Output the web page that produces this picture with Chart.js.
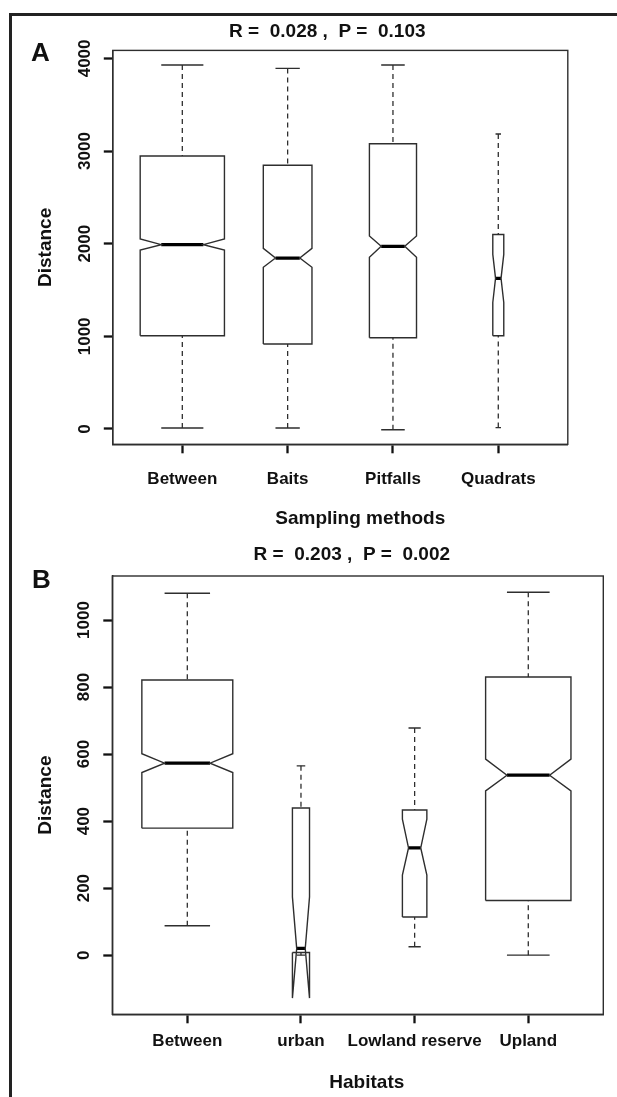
<!DOCTYPE html>
<html><head><meta charset="utf-8">
<script src="https://cdn.jsdelivr.net/npm/chart.js@4.4.1/dist/chart.umd.min.js"></script>
<style>
html,body{margin:0;padding:0;background:#fff;}
body{width:617px;height:1097px;overflow:hidden;position:relative;}
#frame{position:absolute;left:9px;top:13px;width:800px;height:1400px;border:3px solid #222;box-sizing:border-box;}
canvas{position:absolute;left:0;}
.lbl{position:absolute;font:bold 26px "Liberation Sans",Arial,sans-serif;color:#111;line-height:1;}
</style></head><body>
<div id="frame"></div>
<canvas id="ca" width="617" height="530" style="top:0"></canvas>
<canvas id="cb" width="617" height="567" style="top:530px"></canvas>
<div class="lbl" style="left:31px;top:39px">A</div>
<div class="lbl" style="left:32px;top:566px">B</div>
<script>
// ---- Panel A data ----
const catsA = ['Between', 'Baits', 'Pitfalls', 'Quadrats'];
const lowA = [10, 10, -8, 15];
const q1A = [1007, 917, 985, 1007];
const medA = [1990, 1845, 1972, 1626];
const q3A = [2946, 2846, 3079, 2100];
const highA = [3929, 3892, 3929, 3184];
const notchLoA = [1932, 1745, 1853, 1365];
const notchHiA = [2051, 1950, 2083, 1885];
const countA = [2650, 884, 828, 45];
const yTicksA = [0, 1000, 2000, 3000, 4000];
const titleA = 'R =  0.028 ,  P =  0.103';
const xTitleA = 'Sampling methods';

// ---- Panel B data ----
const catsB = ['Between', 'urban', 'Lowland reserve', 'Upland'];
const lowB = [88, 0, 25, 0];
const q1B = [379, 8, 114, 163];
const medB = [573, 20, 320, 537];
const q3B = [821, 439, 433, 830];
const highB = [1080, 565, 678, 1083];
const notchLoB = [545, -128, 239, 490];
const notchHiB = [601, 174, 406, 585];
const countB = [622, 22, 45, 548];
const yTicksB = [0, 200, 400, 600, 800, 1000];
const titleB = 'R =  0.203 ,  P =  0.002';
const xTitleB = 'Habitats';

const FAMILY = '"Liberation Sans", Arial, Helvetica, sans-serif';
Chart.defaults.font.family = FAMILY;
Chart.defaults.color = '#111';

const TICKFONT = {size: 17, weight: 'bold'};
const TITLEFONT = {size: 19, weight: 'bold'};
const LINE = '#2e2e2e';

const frameBox = {
  id: 'frameBox',
  afterDatasetsDraw(chart) {
    const {ctx, chartArea: a} = chart;
    ctx.save();
    ctx.strokeStyle = LINE;
    ctx.lineWidth = 1.4;
    ctx.strokeRect(a.left, a.top, a.right - a.left, a.bottom - a.top);
    ctx.restore();
  }
};

// main title and x-axis title, placed relative to the plot region
const textLabels = {
  id: 'textLabels',
  afterDraw(chart, args, o) {
    const {ctx, chartArea: a} = chart;
    const cx = (a.left + a.right) / 2;
    ctx.save();
    ctx.font = 'bold 19px ' + FAMILY;
    ctx.fillStyle = '#111';
    ctx.textAlign = 'center';
    ctx.textBaseline = 'middle';
    ctx.fillText(o.title, cx + o.titleDx, a.top - o.titleUp);
    ctx.fillText(o.xTitle, cx + o.xTitleDx, a.bottom + o.xTitleDown);
    ctx.restore();
  }
};

function boxDatasets(d) {
  const maxN = Math.max(...d.n);
  const outline = [], whisk = [], caps = [], meds = [];
  const gap = x => ({x: x, y: null});
  d.cats.forEach((c, i) => {
    const x = i + 1;
    const w = 0.8 * Math.sqrt(d.n[i] / maxN) / 2;
    outline.push({x: x - w, y: d.q1[i]}, {x: x + w, y: d.q1[i]}, {x: x + w, y: d.nlo[i]},
      {x: x + w / 2, y: d.med[i]}, {x: x + w, y: d.nhi[i]}, {x: x + w, y: d.q3[i]},
      {x: x - w, y: d.q3[i]}, {x: x - w, y: d.nhi[i]}, {x: x - w / 2, y: d.med[i]},
      {x: x - w, y: d.nlo[i]}, {x: x - w, y: d.q1[i]}, gap(x));
    whisk.push({x: x, y: d.low[i]}, {x: x, y: d.q1[i]}, gap(x), {x: x, y: d.high[i]}, {x: x, y: d.q3[i]}, gap(x));
    caps.push({x: x - w / 2, y: d.low[i]}, {x: x + w / 2, y: d.low[i]}, gap(x),
      {x: x - w / 2, y: d.high[i]}, {x: x + w / 2, y: d.high[i]}, gap(x));
    meds.push({x: x - w / 2, y: d.med[i]}, {x: x + w / 2, y: d.med[i]}, gap(x));
  });
  const base = {pointRadius: 0, pointHoverRadius: 0, fill: false, tension: 0, spanGaps: false,
    borderColor: LINE, borderCapStyle: 'butt', borderJoinStyle: 'miter'};
  return [
    Object.assign({}, base, {label: 'whiskers', data: whisk, borderWidth: 1.3, borderDash: [5, 4]}),
    Object.assign({}, base, {label: 'caps', data: caps, borderWidth: 1.4}),
    Object.assign({}, base, {label: 'boxes', data: outline, borderWidth: 1.4}),
    Object.assign({}, base, {label: 'medians', data: meds, borderWidth: 3.2, borderColor: '#000'})
  ];
}

function makeChart(id, d, L) {
  const lo = Math.min(...d.low, ...d.nlo), hi = Math.max(...d.high, ...d.nhi);
  const ext = (hi - lo) * 0.04;
  const nc = d.cats.length;
  new Chart(document.getElementById(id), {
    type: 'line',
    data: {datasets: boxDatasets(d)},
    plugins: [frameBox, textLabels],
    options: {
      responsive: false, animation: false, events: [],
      devicePixelRatio: 1,
      layout: {padding: {left: 0, right: L.right, top: L.top, bottom: 0}},
      plugins: {
        legend: {display: false}, tooltip: {enabled: false}, title: {display: false},
        textLabels: {title: d.title, xTitle: d.xTitle, titleDx: L.titleDx, titleUp: L.titleUp,
          xTitleDx: L.xTitleDx, xTitleDown: L.xTitleDown}
      },
      scales: {
        x: {
          type: 'linear', min: 0.5 - 0.04 * nc, max: nc + 0.5 + 0.04 * nc,
          afterBuildTicks: s => { s.ticks = d.cats.map((c, i) => ({value: i + 1})); },
          afterFit: s => { s.height = L.xH; },
          ticks: {autoSkip: false, maxRotation: 0, minRotation: 0, font: TICKFONT, color: '#111',
            padding: L.xLabPad, callback: v => d.cats[v - 1]},
          grid: {drawOnChartArea: false, drawTicks: true, tickLength: 9, tickWidth: 2.3, tickColor: '#111'},
          border: {display: true, color: LINE, width: 1.4},
          title: {display: false}
        },
        y: {
          type: 'linear', min: lo - ext, max: hi + ext,
          afterBuildTicks: s => { s.ticks = d.yTicks.map(v => ({value: v})); },
          afterFit: s => { s.width = L.left; },
          ticks: {minRotation: 90, maxRotation: 90, crossAlign: 'center', font: TICKFONT, color: '#111',
            padding: L.yLabPad, callback: v => String(v)},
          grid: {drawOnChartArea: false, drawTicks: true, tickLength: 9, tickWidth: 2.3, tickColor: '#111'},
          border: {display: true, color: LINE, width: 1.4},
          title: {display: true, text: 'Distance', font: TITLEFONT, color: '#111', padding: {top: 34.6, bottom: 0}}
        }
      }
    }
  });
}

makeChart('ca', {cats: catsA, low: lowA, q1: q1A, med: medA, q3: q3A, high: highA,
  nlo: notchLoA, nhi: notchHiA, n: countA, yTicks: yTicksA, title: titleA, xTitle: xTitleA},
  {left: 112.8, right: 49.2, top: 50.4, xH: 85.7, xLabPad: 16, yLabPad: 0,
   titleDx: -13, titleUp: 19, xTitleDx: 20, xTitleDown: 74});

makeChart('cb', {cats: catsB, low: lowB, q1: q1B, med: medB, q3: q3B, high: highB,
  nlo: notchLoB, nhi: notchHiB, n: countB, yTicks: yTicksB, title: titleB, xTitle: xTitleB},
  {left: 112.3, right: 13.7, top: 46, xH: 82.7, xLabPad: 8, yLabPad: 0,
   titleDx: -6, titleUp: 21, xTitleDx: 9, xTitleDown: 68});
</script>
</body></html>
